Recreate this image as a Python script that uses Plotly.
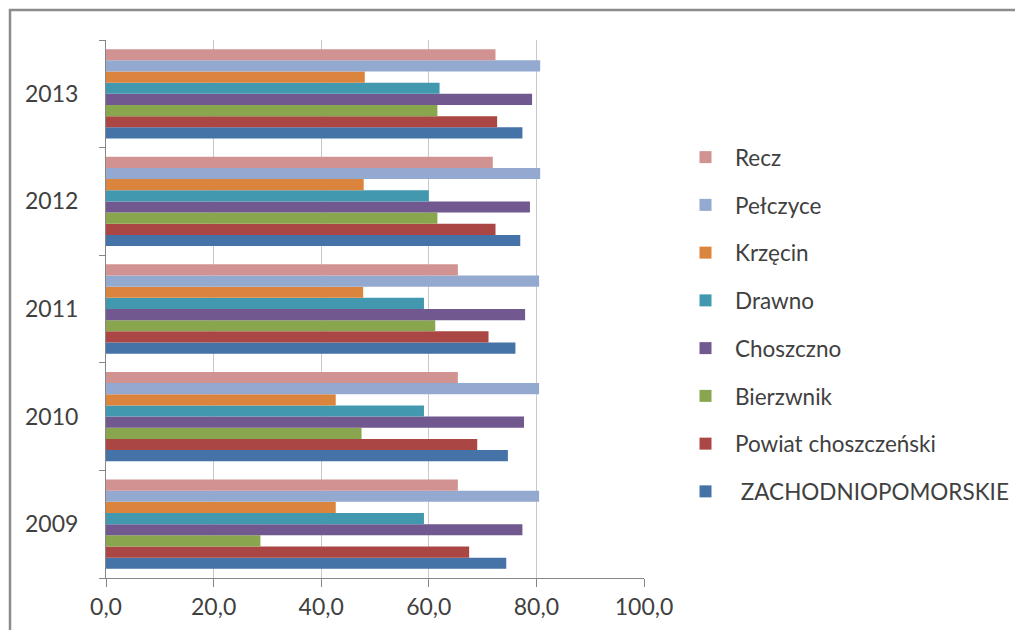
import plotly.graph_objects as go

years = ["2009", "2010", "2011", "2012", "2013"]

# series listed bottom-to-top inside each year group
zachodniopomorskie = [74.4, 74.7, 76.1, 77.0, 77.4]
powiat_choszczenski = [67.5, 69.0, 71.1, 72.4, 72.7]
bierzwnik = [28.7, 47.5, 61.2, 61.6, 61.6]
choszczno = [77.4, 77.7, 77.9, 78.8, 79.2]
drawno = [59.1, 59.1, 59.1, 60.0, 62.0]
krzecin = [42.7, 42.7, 47.8, 47.9, 48.1]
pelczyce = [80.5, 80.5, 80.5, 80.7, 80.7]
recz = [65.4, 65.4, 65.4, 71.9, 72.4]

series = [
    (" ZACHODNIOPOMORSKIE", zachodniopomorskie, "#4572A7"),
    ("Powiat choszczeński", powiat_choszczenski, "#AA4643"),
    ("Bierzwnik", bierzwnik, "#89A54E"),
    ("Choszczno", choszczno, "#71588F"),
    ("Drawno", drawno, "#4198AF"),
    ("Krzęcin", krzecin, "#DB843D"),
    ("Pełczyce", pelczyce, "#93A9CF"),
    ("Recz", recz, "#D19392"),
]

FONT = "Lato"
TEXT = "#404040"
AXIS = "#868686"

fig = go.Figure()
for i, (name, vals, color) in enumerate(series):
    fig.add_trace(
        go.Bar(
            y=years,
            x=vals,
            name=name,
            orientation="h",
            marker_color=color,
            marker_line_width=0,
            legendgroup=f"g{i}",
            legendrank=len(series) - i,
        )
    )

# the page body adds an 8px offset, so figure px = screen px - 8;
# figure is shrunk so the page does not overflow the window.
# plot area on screen: x 106..644, y 40..578
FW, FH = 1015, 622
L, R, T, B = 98, 636, 32, 570
W, H = R - L, B - T


def px_x(p):
    return (p - L) / W


def px_y(p):
    return (B - p) / H


fig.add_shape(
    type="rect",
    xref="paper",
    yref="paper",
    x0=px_x(2),
    x1=px_x(1040),
    y0=px_y(660),
    y1=px_y(2),
    line=dict(color="#8C8C8C", width=2.5),
    fillcolor="rgba(0,0,0,0)",
    layer="below",
)

fig.update_layout(
    width=FW,
    height=FH,
    margin=dict(l=L, r=FW - R, t=T, b=FH - B, autoexpand=False),
    paper_bgcolor="white",
    plot_bgcolor="white",
    barmode="group",
    bargap=0.17,
    bargroupgap=0,
    separators=",.",
    font=dict(family=FONT, color=TEXT, size=23),
    xaxis=dict(
        range=[0, 100],
        tickvals=[0, 20, 40, 60, 80, 100],
        tickformat=".1f",
        showgrid=True,
        gridcolor="#C8C8C8",
        gridwidth=1,
        showline=True,
        linecolor=AXIS,
        linewidth=1,
        ticks="outside",
        ticklen=8,
        tickcolor=AXIS,
        tickfont=dict(size=23, color=TEXT),
        ticklabelstandoff=0,
        zeroline=False,
        fixedrange=True,
    ),
    yaxis=dict(
        categoryorder="array",
        categoryarray=years,
        showline=True,
        linecolor=AXIS,
        linewidth=1,
        ticks="outside",
        ticklen=6,
        tickcolor=AXIS,
        tickson="boundaries",
        tickfont=dict(size=23, color=TEXT),
        ticklabelstandoff=22,
        showgrid=False,
        fixedrange=True,
    ),
    legend=dict(
        x=px_x(668),
        xanchor="left",
        y=px_y(128),
        yanchor="top",
        traceorder="grouped",
        tracegroupgap=15.5,
        itemwidth=49,
        font=dict(size=22.5, color=TEXT),
        bgcolor="rgba(0,0,0,0)",
        borderwidth=0,
    ),
    showlegend=True,
)

fig.write_html("out.html")
